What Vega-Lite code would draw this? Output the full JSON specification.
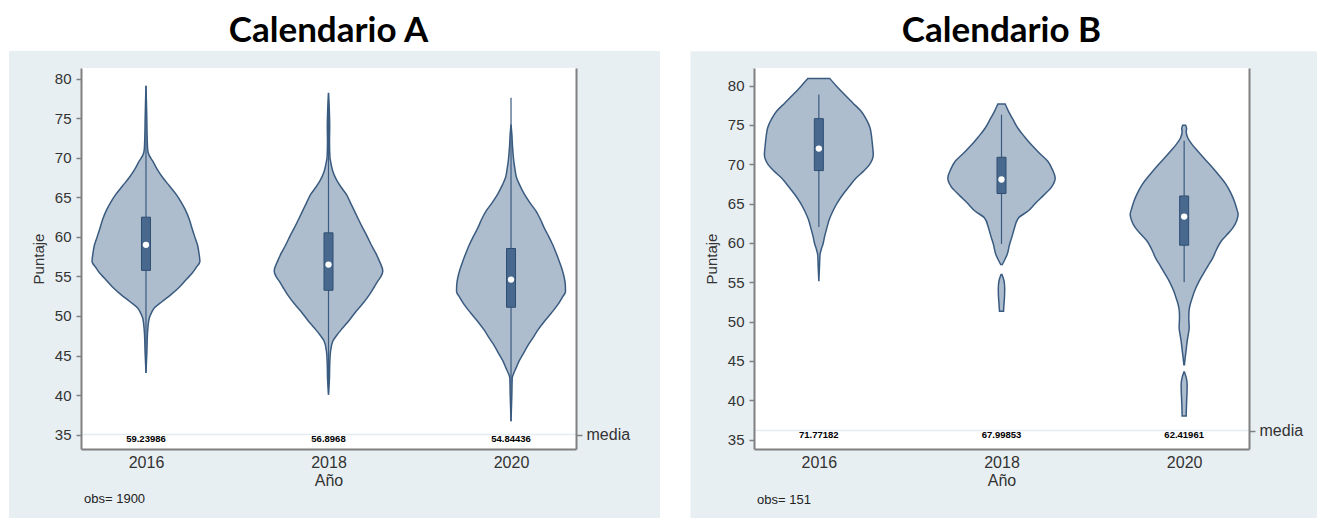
{
 "$schema": "https://vega.github.io/schema/vega-lite/v6.json",
 "padding": {"left": 8, "top": 13, "right": 0, "bottom": 0},
 "background": "white",
 "spacing": 29,
 "datasets": {
  "violin": [
   {"cal":"A","anio":2016,"parte":1,"puntaje":79.1,"lo":2016,"hi":2016},
   {"cal":"A","anio":2016,"parte":1,"puntaje":77,"lo":2015.995,"hi":2016.005},
   {"cal":"A","anio":2016,"parte":1,"puntaje":75,"lo":2015.991,"hi":2016.009},
   {"cal":"A","anio":2016,"parte":1,"puntaje":73,"lo":2015.988,"hi":2016.012},
   {"cal":"A","anio":2016,"parte":1,"puntaje":71.1,"lo":2015.982,"hi":2016.018},
   {"cal":"A","anio":2016,"parte":1,"puntaje":70.3,"lo":2015.965,"hi":2016.035},
   {"cal":"A","anio":2016,"parte":1,"puntaje":69.6,"lo":2015.927,"hi":2016.073},
   {"cal":"A","anio":2016,"parte":1,"puntaje":68.5,"lo":2015.875,"hi":2016.125},
   {"cal":"A","anio":2016,"parte":1,"puntaje":67.5,"lo":2015.817,"hi":2016.183},
   {"cal":"A","anio":2016,"parte":1,"puntaje":66.4,"lo":2015.74,"hi":2016.26},
   {"cal":"A","anio":2016,"parte":1,"puntaje":65.4,"lo":2015.671,"hi":2016.329},
   {"cal":"A","anio":2016,"parte":1,"puntaje":64.3,"lo":2015.61,"hi":2016.39},
   {"cal":"A","anio":2016,"parte":1,"puntaje":63.25,"lo":2015.562,"hi":2016.438},
   {"cal":"A","anio":2016,"parte":1,"puntaje":62.2,"lo":2015.525,"hi":2016.475},
   {"cal":"A","anio":2016,"parte":1,"puntaje":61.1,"lo":2015.496,"hi":2016.504},
   {"cal":"A","anio":2016,"parte":1,"puntaje":60,"lo":2015.465,"hi":2016.535},
   {"cal":"A","anio":2016,"parte":1,"puntaje":59,"lo":2015.436,"hi":2016.564},
   {"cal":"A","anio":2016,"parte":1,"puntaje":58,"lo":2015.42,"hi":2016.58},
   {"cal":"A","anio":2016,"parte":1,"puntaje":56.9,"lo":2015.409,"hi":2016.591},
   {"cal":"A","anio":2016,"parte":1,"puntaje":56.1,"lo":2015.452,"hi":2016.548},
   {"cal":"A","anio":2016,"parte":1,"puntaje":55.4,"lo":2015.495,"hi":2016.505},
   {"cal":"A","anio":2016,"parte":1,"puntaje":54.8,"lo":2015.543,"hi":2016.457},
   {"cal":"A","anio":2016,"parte":1,"puntaje":53.7,"lo":2015.63,"hi":2016.37},
   {"cal":"A","anio":2016,"parte":1,"puntaje":52.7,"lo":2015.726,"hi":2016.274},
   {"cal":"A","anio":2016,"parte":1,"puntaje":51.8,"lo":2015.825,"hi":2016.175},
   {"cal":"A","anio":2016,"parte":1,"puntaje":51,"lo":2015.909,"hi":2016.091},
   {"cal":"A","anio":2016,"parte":1,"puntaje":50.4,"lo":2015.94,"hi":2016.06},
   {"cal":"A","anio":2016,"parte":1,"puntaje":49.75,"lo":2015.964,"hi":2016.036},
   {"cal":"A","anio":2016,"parte":1,"puntaje":48.6,"lo":2015.978,"hi":2016.022},
   {"cal":"A","anio":2016,"parte":1,"puntaje":47.65,"lo":2015.984,"hi":2016.016},
   {"cal":"A","anio":2016,"parte":1,"puntaje":45.5,"lo":2015.99,"hi":2016.01},
   {"cal":"A","anio":2016,"parte":1,"puntaje":42.8,"lo":2016,"hi":2016},

   {"cal":"A","anio":2018,"parte":1,"puntaje":78.2,"lo":2018,"hi":2018},
   {"cal":"A","anio":2018,"parte":1,"puntaje":76,"lo":2017.991,"hi":2018.009},
   {"cal":"A","anio":2018,"parte":1,"puntaje":74,"lo":2017.987,"hi":2018.013},
   {"cal":"A","anio":2018,"parte":1,"puntaje":72,"lo":2017.989,"hi":2018.011},
   {"cal":"A","anio":2018,"parte":1,"puntaje":70,"lo":2017.984,"hi":2018.016},
   {"cal":"A","anio":2018,"parte":1,"puntaje":69.6,"lo":2017.978,"hi":2018.022},
   {"cal":"A","anio":2018,"parte":1,"puntaje":68.3,"lo":2017.953,"hi":2018.047},
   {"cal":"A","anio":2018,"parte":1,"puntaje":67.2,"lo":2017.912,"hi":2018.088},
   {"cal":"A","anio":2018,"parte":1,"puntaje":66.3,"lo":2017.863,"hi":2018.137},
   {"cal":"A","anio":2018,"parte":1,"puntaje":65.4,"lo":2017.806,"hi":2018.194},
   {"cal":"A","anio":2018,"parte":1,"puntaje":64.3,"lo":2017.759,"hi":2018.241},
   {"cal":"A","anio":2018,"parte":1,"puntaje":63.25,"lo":2017.715,"hi":2018.285},
   {"cal":"A","anio":2018,"parte":1,"puntaje":62.2,"lo":2017.671,"hi":2018.329},
   {"cal":"A","anio":2018,"parte":1,"puntaje":61.1,"lo":2017.624,"hi":2018.376},
   {"cal":"A","anio":2018,"parte":1,"puntaje":60.1,"lo":2017.578,"hi":2018.422},
   {"cal":"A","anio":2018,"parte":1,"puntaje":59,"lo":2017.532,"hi":2018.468},
   {"cal":"A","anio":2018,"parte":1,"puntaje":58,"lo":2017.485,"hi":2018.515},
   {"cal":"A","anio":2018,"parte":1,"puntaje":56.9,"lo":2017.441,"hi":2018.559},
   {"cal":"A","anio":2018,"parte":1,"puntaje":55.7,"lo":2017.405,"hi":2018.595},
   {"cal":"A","anio":2018,"parte":1,"puntaje":55,"lo":2017.425,"hi":2018.575},
   {"cal":"A","anio":2018,"parte":1,"puntaje":54.4,"lo":2017.46,"hi":2018.54},
   {"cal":"A","anio":2018,"parte":1,"puntaje":53.6,"lo":2017.502,"hi":2018.498},
   {"cal":"A","anio":2018,"parte":1,"puntaje":52.7,"lo":2017.551,"hi":2018.449},
   {"cal":"A","anio":2018,"parte":1,"puntaje":51.6,"lo":2017.622,"hi":2018.378},
   {"cal":"A","anio":2018,"parte":1,"puntaje":50.6,"lo":2017.697,"hi":2018.303},
   {"cal":"A","anio":2018,"parte":1,"puntaje":49.5,"lo":2017.77,"hi":2018.23},
   {"cal":"A","anio":2018,"parte":1,"puntaje":48.5,"lo":2017.843,"hi":2018.157},
   {"cal":"A","anio":2018,"parte":1,"puntaje":47.6,"lo":2017.907,"hi":2018.093},
   {"cal":"A","anio":2018,"parte":1,"puntaje":46.8,"lo":2017.953,"hi":2018.047},
   {"cal":"A","anio":2018,"parte":1,"puntaje":45.5,"lo":2017.978,"hi":2018.022},
   {"cal":"A","anio":2018,"parte":1,"puntaje":44,"lo":2017.986,"hi":2018.014},
   {"cal":"A","anio":2018,"parte":1,"puntaje":42,"lo":2017.99,"hi":2018.01},
   {"cal":"A","anio":2018,"parte":1,"puntaje":40.05,"lo":2018,"hi":2018},

   {"cal":"A","anio":2020,"parte":1,"puntaje":74.2,"lo":2020,"hi":2020},
   {"cal":"A","anio":2020,"parte":1,"puntaje":73,"lo":2019.991,"hi":2020.009},
   {"cal":"A","anio":2020,"parte":1,"puntaje":71.5,"lo":2019.984,"hi":2020.016},
   {"cal":"A","anio":2020,"parte":1,"puntaje":69.6,"lo":2019.97,"hi":2020.03},
   {"cal":"A","anio":2020,"parte":1,"puntaje":68.5,"lo":2019.956,"hi":2020.044},
   {"cal":"A","anio":2020,"parte":1,"puntaje":67.5,"lo":2019.94,"hi":2020.06},
   {"cal":"A","anio":2020,"parte":1,"puntaje":66.6,"lo":2019.907,"hi":2020.093},
   {"cal":"A","anio":2020,"parte":1,"puntaje":65.4,"lo":2019.854,"hi":2020.146},
   {"cal":"A","anio":2020,"parte":1,"puntaje":64.3,"lo":2019.792,"hi":2020.208},
   {"cal":"A","anio":2020,"parte":1,"puntaje":63.25,"lo":2019.726,"hi":2020.274},
   {"cal":"A","anio":2020,"parte":1,"puntaje":62.2,"lo":2019.677,"hi":2020.323},
   {"cal":"A","anio":2020,"parte":1,"puntaje":61.1,"lo":2019.635,"hi":2020.365},
   {"cal":"A","anio":2020,"parte":1,"puntaje":60.1,"lo":2019.589,"hi":2020.411},
   {"cal":"A","anio":2020,"parte":1,"puntaje":59,"lo":2019.543,"hi":2020.457},
   {"cal":"A","anio":2020,"parte":1,"puntaje":58,"lo":2019.507,"hi":2020.493},
   {"cal":"A","anio":2020,"parte":1,"puntaje":56.9,"lo":2019.471,"hi":2020.529},
   {"cal":"A","anio":2020,"parte":1,"puntaje":55.9,"lo":2019.441,"hi":2020.559},
   {"cal":"A","anio":2020,"parte":1,"puntaje":54.8,"lo":2019.416,"hi":2020.584},
   {"cal":"A","anio":2020,"parte":1,"puntaje":53.9,"lo":2019.405,"hi":2020.595},
   {"cal":"A","anio":2020,"parte":1,"puntaje":53.1,"lo":2019.403,"hi":2020.597},
   {"cal":"A","anio":2020,"parte":1,"puntaje":52.3,"lo":2019.441,"hi":2020.559},
   {"cal":"A","anio":2020,"parte":1,"puntaje":51.4,"lo":2019.489,"hi":2020.511},
   {"cal":"A","anio":2020,"parte":1,"puntaje":50.4,"lo":2019.556,"hi":2020.444},
   {"cal":"A","anio":2020,"parte":1,"puntaje":49.3,"lo":2019.635,"hi":2020.365},
   {"cal":"A","anio":2020,"parte":1,"puntaje":48.3,"lo":2019.701,"hi":2020.299},
   {"cal":"A","anio":2020,"parte":1,"puntaje":47.2,"lo":2019.762,"hi":2020.238},
   {"cal":"A","anio":2020,"parte":1,"puntaje":46.2,"lo":2019.819,"hi":2020.181},
   {"cal":"A","anio":2020,"parte":1,"puntaje":45.1,"lo":2019.872,"hi":2020.128},
   {"cal":"A","anio":2020,"parte":1,"puntaje":44.3,"lo":2019.912,"hi":2020.088},
   {"cal":"A","anio":2020,"parte":1,"puntaje":43.4,"lo":2019.945,"hi":2020.055},
   {"cal":"A","anio":2020,"parte":1,"puntaje":42.8,"lo":2019.969,"hi":2020.031},
   {"cal":"A","anio":2020,"parte":1,"puntaje":42.15,"lo":2019.987,"hi":2020.013},
   {"cal":"A","anio":2020,"parte":1,"puntaje":40,"lo":2019.991,"hi":2020.009},
   {"cal":"A","anio":2020,"parte":1,"puntaje":36.7,"lo":2020,"hi":2020},

   {"cal":"B","anio":2016,"parte":1,"puntaje":80.9,"lo":2015.88,"hi":2016.12},
   {"cal":"B","anio":2016,"parte":1,"puntaje":79.9,"lo":2015.803,"hi":2016.197},
   {"cal":"B","anio":2016,"parte":1,"puntaje":78.86,"lo":2015.719,"hi":2016.281},
   {"cal":"B","anio":2016,"parte":1,"puntaje":77.8,"lo":2015.628,"hi":2016.372},
   {"cal":"B","anio":2016,"parte":1,"puntaje":76.73,"lo":2015.537,"hi":2016.463},
   {"cal":"B","anio":2016,"parte":1,"puntaje":75.7,"lo":2015.48,"hi":2016.52},
   {"cal":"B","anio":2016,"parte":1,"puntaje":74.61,"lo":2015.439,"hi":2016.561},
   {"cal":"B","anio":2016,"parte":1,"puntaje":73.8,"lo":2015.426,"hi":2016.574},
   {"cal":"B","anio":2016,"parte":1,"puntaje":72.92,"lo":2015.417,"hi":2016.583},
   {"cal":"B","anio":2016,"parte":1,"puntaje":72,"lo":2015.409,"hi":2016.591},
   {"cal":"B","anio":2016,"parte":1,"puntaje":71.23,"lo":2015.404,"hi":2016.596},
   {"cal":"B","anio":2016,"parte":1,"puntaje":70.6,"lo":2015.415,"hi":2016.585},
   {"cal":"B","anio":2016,"parte":1,"puntaje":69.96,"lo":2015.445,"hi":2016.555},
   {"cal":"B","anio":2016,"parte":1,"puntaje":69.1,"lo":2015.513,"hi":2016.487},
   {"cal":"B","anio":2016,"parte":1,"puntaje":68.26,"lo":2015.592,"hi":2016.408},
   {"cal":"B","anio":2016,"parte":1,"puntaje":67.2,"lo":2015.666,"hi":2016.334},
   {"cal":"B","anio":2016,"parte":1,"puntaje":66.15,"lo":2015.737,"hi":2016.263},
   {"cal":"B","anio":2016,"parte":1,"puntaje":65.1,"lo":2015.798,"hi":2016.202},
   {"cal":"B","anio":2016,"parte":1,"puntaje":64.03,"lo":2015.847,"hi":2016.153},
   {"cal":"B","anio":2016,"parte":1,"puntaje":63,"lo":2015.885,"hi":2016.115},
   {"cal":"B","anio":2016,"parte":1,"puntaje":61.91,"lo":2015.912,"hi":2016.088},
   {"cal":"B","anio":2016,"parte":1,"puntaje":60.8,"lo":2015.937,"hi":2016.063},
   {"cal":"B","anio":2016,"parte":1,"puntaje":59.8,"lo":2015.956,"hi":2016.044},
   {"cal":"B","anio":2016,"parte":1,"puntaje":59.2,"lo":2015.973,"hi":2016.027},
   {"cal":"B","anio":2016,"parte":1,"puntaje":58.53,"lo":2015.987,"hi":2016.013},
   {"cal":"B","anio":2016,"parte":1,"puntaje":57,"lo":2015.993,"hi":2016.007},
   {"cal":"B","anio":2016,"parte":1,"puntaje":55.13,"lo":2016,"hi":2016},

   {"cal":"B","anio":2018,"parte":1,"puntaje":77.66,"lo":2017.96,"hi":2018.04},
   {"cal":"B","anio":2018,"parte":1,"puntaje":76.73,"lo":2017.923,"hi":2018.077},
   {"cal":"B","anio":2018,"parte":1,"puntaje":75.7,"lo":2017.874,"hi":2018.126},
   {"cal":"B","anio":2018,"parte":1,"puntaje":74.61,"lo":2017.822,"hi":2018.178},
   {"cal":"B","anio":2018,"parte":1,"puntaje":73.5,"lo":2017.748,"hi":2018.252},
   {"cal":"B","anio":2018,"parte":1,"puntaje":72.5,"lo":2017.675,"hi":2018.325},
   {"cal":"B","anio":2018,"parte":1,"puntaje":71.4,"lo":2017.584,"hi":2018.416},
   {"cal":"B","anio":2018,"parte":1,"puntaje":70.38,"lo":2017.493,"hi":2018.507},
   {"cal":"B","anio":2018,"parte":1,"puntaje":69.3,"lo":2017.442,"hi":2018.558},
   {"cal":"B","anio":2018,"parte":1,"puntaje":68.26,"lo":2017.412,"hi":2018.588},
   {"cal":"B","anio":2018,"parte":1,"puntaje":67.2,"lo":2017.447,"hi":2018.553},
   {"cal":"B","anio":2018,"parte":1,"puntaje":66.15,"lo":2017.53,"hi":2018.47},
   {"cal":"B","anio":2018,"parte":1,"puntaje":65.1,"lo":2017.623,"hi":2018.377},
   {"cal":"B","anio":2018,"parte":1,"puntaje":64.03,"lo":2017.712,"hi":2018.288},
   {"cal":"B","anio":2018,"parte":1,"puntaje":63.18,"lo":2017.814,"hi":2018.186},
   {"cal":"B","anio":2018,"parte":1,"puntaje":61.91,"lo":2017.858,"hi":2018.142},
   {"cal":"B","anio":2018,"parte":1,"puntaje":60.8,"lo":2017.885,"hi":2018.115},
   {"cal":"B","anio":2018,"parte":1,"puntaje":59.8,"lo":2017.912,"hi":2018.088},
   {"cal":"B","anio":2018,"parte":1,"puntaje":58.53,"lo":2017.938,"hi":2018.062},
   {"cal":"B","anio":2018,"parte":1,"puntaje":57.8,"lo":2017.967,"hi":2018.033},
   {"cal":"B","anio":2018,"parte":1,"puntaje":57.26,"lo":2017.991,"hi":2018.009},
   {"cal":"B","anio":2018,"parte":2,"puntaje":55.98,"lo":2017.995,"hi":2018.005},
   {"cal":"B","anio":2018,"parte":2,"puntaje":55.2,"lo":2017.973,"hi":2018.027},
   {"cal":"B","anio":2018,"parte":2,"puntaje":54.2,"lo":2017.965,"hi":2018.035},
   {"cal":"B","anio":2018,"parte":2,"puntaje":53.2,"lo":2017.967,"hi":2018.033},
   {"cal":"B","anio":2018,"parte":2,"puntaje":52.2,"lo":2017.973,"hi":2018.027},
   {"cal":"B","anio":2018,"parte":2,"puntaje":51.32,"lo":2017.978,"hi":2018.022},

   {"cal":"B","anio":2020,"parte":1,"puntaje":74.96,"lo":2019.984,"hi":2020.016},
   {"cal":"B","anio":2020,"parte":1,"puntaje":74.5,"lo":2019.973,"hi":2020.027},
   {"cal":"B","anio":2020,"parte":1,"puntaje":74.2,"lo":2019.978,"hi":2020.022},
   {"cal":"B","anio":2020,"parte":1,"puntaje":73.34,"lo":2019.96,"hi":2020.04},
   {"cal":"B","anio":2020,"parte":1,"puntaje":72.5,"lo":2019.912,"hi":2020.088},
   {"cal":"B","anio":2020,"parte":1,"puntaje":71.65,"lo":2019.85,"hi":2020.15},
   {"cal":"B","anio":2020,"parte":1,"puntaje":70.6,"lo":2019.77,"hi":2020.23},
   {"cal":"B","anio":2020,"parte":1,"puntaje":69.53,"lo":2019.686,"hi":2020.314},
   {"cal":"B","anio":2020,"parte":1,"puntaje":68.5,"lo":2019.612,"hi":2020.388},
   {"cal":"B","anio":2020,"parte":1,"puntaje":67.42,"lo":2019.54,"hi":2020.46},
   {"cal":"B","anio":2020,"parte":1,"puntaje":66.4,"lo":2019.491,"hi":2020.509},
   {"cal":"B","anio":2020,"parte":1,"puntaje":65.3,"lo":2019.45,"hi":2020.55},
   {"cal":"B","anio":2020,"parte":1,"puntaje":64.4,"lo":2019.426,"hi":2020.574},
   {"cal":"B","anio":2020,"parte":1,"puntaje":63.61,"lo":2019.409,"hi":2020.591},
   {"cal":"B","anio":2020,"parte":1,"puntaje":62.8,"lo":2019.426,"hi":2020.574},
   {"cal":"B","anio":2020,"parte":1,"puntaje":61.91,"lo":2019.467,"hi":2020.533},
   {"cal":"B","anio":2020,"parte":1,"puntaje":61,"lo":2019.535,"hi":2020.465},
   {"cal":"B","anio":2020,"parte":1,"puntaje":60.22,"lo":2019.595,"hi":2020.405},
   {"cal":"B","anio":2020,"parte":1,"puntaje":59.2,"lo":2019.644,"hi":2020.356},
   {"cal":"B","anio":2020,"parte":1,"puntaje":58.1,"lo":2019.686,"hi":2020.314},
   {"cal":"B","anio":2020,"parte":1,"puntaje":57,"lo":2019.743,"hi":2020.257},
   {"cal":"B","anio":2020,"parte":1,"puntaje":55.98,"lo":2019.795,"hi":2020.205},
   {"cal":"B","anio":2020,"parte":1,"puntaje":54.9,"lo":2019.847,"hi":2020.153},
   {"cal":"B","anio":2020,"parte":1,"puntaje":53.86,"lo":2019.887,"hi":2020.113},
   {"cal":"B","anio":2020,"parte":1,"puntaje":53,"lo":2019.912,"hi":2020.088},
   {"cal":"B","anio":2020,"parte":1,"puntaje":52.17,"lo":2019.934,"hi":2020.066},
   {"cal":"B","anio":2020,"parte":1,"puntaje":51.3,"lo":2019.947,"hi":2020.053},
   {"cal":"B","anio":2020,"parte":1,"puntaje":50.47,"lo":2019.949,"hi":2020.051},
   {"cal":"B","anio":2020,"parte":1,"puntaje":49.2,"lo":2019.945,"hi":2020.055},
   {"cal":"B","anio":2020,"parte":1,"puntaje":48.3,"lo":2019.956,"hi":2020.044},
   {"cal":"B","anio":2020,"parte":1,"puntaje":47.51,"lo":2019.967,"hi":2020.033},
   {"cal":"B","anio":2020,"parte":1,"puntaje":46.4,"lo":2019.978,"hi":2020.022},
   {"cal":"B","anio":2020,"parte":1,"puntaje":45.39,"lo":2019.989,"hi":2020.011},
   {"cal":"B","anio":2020,"parte":1,"puntaje":44.5,"lo":2019.997,"hi":2020.003},
   {"cal":"B","anio":2020,"parte":2,"puntaje":43.6,"lo":2019.997,"hi":2020.003},
   {"cal":"B","anio":2020,"parte":2,"puntaje":42.9,"lo":2019.978,"hi":2020.022},
   {"cal":"B","anio":2020,"parte":2,"puntaje":42,"lo":2019.967,"hi":2020.033},
   {"cal":"B","anio":2020,"parte":2,"puntaje":40.9,"lo":2019.969,"hi":2020.031},
   {"cal":"B","anio":2020,"parte":2,"puntaje":39.89,"lo":2019.973,"hi":2020.027},
   {"cal":"B","anio":2020,"parte":2,"puntaje":38.9,"lo":2019.976,"hi":2020.024},
   {"cal":"B","anio":2020,"parte":2,"puntaje":37.98,"lo":2019.978,"hi":2020.022}
  ],
  "caja": [
   {"cal":"A","anio":2016,"q1":55.76,"q3":62.49,"mediana":58.99,"wlo":42.8,"whi":79.1,"media":"59.23986"},
   {"cal":"A","anio":2018,"q1":53.25,"q3":60.51,"mediana":56.5,"wlo":40.05,"whi":78.2,"media":"56.8968"},
   {"cal":"A","anio":2020,"q1":51.1,"q3":58.53,"mediana":54.6,"wlo":36.7,"whi":77.6,"media":"54.84436"},
   {"cal":"B","anio":2016,"q1":69.2,"q3":75.8,"mediana":72.0,"wlo":62.03,"whi":78.86,"media":"71.77182"},
   {"cal":"B","anio":2018,"q1":66.28,"q3":70.89,"mediana":68.06,"wlo":59.87,"whi":76.3,"media":"67.99853"},
   {"cal":"B","anio":2020,"q1":59.71,"q3":65.97,"mediana":63.35,"wlo":55.0,"whi":73.0,"media":"62.41961"}
  ],
  "obs": [
   {"cal":"A","texto":"obs= 1900"},
   {"cal":"B","texto":"obs= 151"}
  ]
 },
 "hconcat": [
  {
   "title": {"text": "Calendario A"},
   "width": 495, "height": 381,
   "layer": [
    {"layer": [
     {"data": {"values": [{}]}, "mark": {"type": "rect", "fill": "#e8eff2"},
      "encoding": {
       "x": {"datum": 2014.499, "type": "quantitative", "title": "Año", "scale": {"domain": [2015.288, 2020.712], "nice": false, "zero": false, "padding": 0},
             "axis": {"zindex": 1, "values": [2016, 2018, 2020], "format": "d", "ticks": false, "labelFontSize": 16, "labelPadding": 5, "titleFontSize": 16, "titlePadding": 2}},
       "x2": {"datum": 2021.633},
       "y": {"datum": 24.0, "type": "quantitative", "title": "Puntaje", "scale": {"domain": [33.18, 81.35], "nice": false, "zero": false},
             "axis": {"zindex": 1, "orient": "left", "values": [35, 40, 45, 50, 55, 60, 65, 70, 75, 80], "tickSize": 5, "labelFontSize": 15, "labelPadding": 5, "titleFontSize": 15, "titlePadding": 8}},
       "y2": {"datum": 83.5}
      }},
     {"data": {"values": [{}]}, "mark": {"type": "rect", "fill": "white"},
      "encoding": {
       "x": {"datum": 2015.288, "type": "quantitative", "title": "Año"},
       "x2": {"datum": 2020.712},
       "y": {"datum": 33.18, "type": "quantitative", "title": "Puntaje"},
       "y2": {"datum": 81.35}
      }},
     {"data": {"name": "violin"}, "transform": [{"filter": "datum.cal === 'A'"}],
      "mark": {"type": "area", "orient": "horizontal", "interpolate": "monotone", "fill": "#aebdcd", "fillOpacity": 1, "stroke": "#3a5b80", "strokeWidth": 1.5},
      "encoding": {
       "y": {"field": "puntaje", "type": "quantitative", "title": "Puntaje"},
       "x": {"field": "lo", "type": "quantitative", "title": "Año"},
       "x2": {"field": "hi"},
       "detail": [{"field": "anio"}, {"field": "parte"}]
      }},
     {"data": {"name": "caja"}, "transform": [{"filter": "datum.cal === 'A'"}],
      "mark": {"type": "rule", "color": "#3a5b80", "strokeWidth": 1.2},
      "encoding": {
       "x": {"field": "anio", "type": "quantitative", "title": "Año"},
       "y": {"field": "wlo", "type": "quantitative", "title": "Puntaje"},
       "y2": {"field": "whi"}
      }},
     {"data": {"name": "caja"}, "transform": [{"filter": "datum.cal === 'A'"}],
      "mark": {"type": "bar", "size": 9, "fill": "#48698d", "stroke": "#2e4e72", "strokeWidth": 1},
      "encoding": {
       "x": {"field": "anio", "type": "quantitative", "title": "Año"},
       "y": {"field": "q1", "type": "quantitative", "title": "Puntaje"},
       "y2": {"field": "q3"}
      }},
     {"data": {"name": "caja"}, "transform": [{"filter": "datum.cal === 'A'"}],
      "mark": {"type": "point", "filled": true, "color": "white", "opacity": 1, "size": 40},
      "encoding": {
       "x": {"field": "anio", "type": "quantitative", "title": "Año"},
       "y": {"field": "mediana", "type": "quantitative", "title": "Puntaje"}
      }},
     {"data": {"name": "caja"}, "transform": [{"filter": "datum.cal === 'A'"}],
      "mark": {"type": "text", "fontSize": 9.5, "fontWeight": "bold", "dy": 4.5, "color": "black", "font": "Liberation Sans"},
      "encoding": {
       "x": {"field": "anio", "type": "quantitative", "title": "Año"},
       "y": {"datum": 35, "type": "quantitative", "title": "Puntaje"},
       "text": {"field": "media", "type": "nominal"}
      }},
     {"data": {"name": "obs"}, "transform": [{"filter": "datum.cal === 'A'"}],
      "mark": {"type": "text", "align": "left", "fontSize": 13, "color": "#222222", "font": "Liberation Sans"},
      "encoding": {
       "x": {"datum": 2015.321, "type": "quantitative", "title": "Año"},
       "y": {"datum": 26.82, "type": "quantitative", "title": "Puntaje"},
       "text": {"field": "texto", "type": "nominal"}
      }}
    ]},
    {"data": {"values": [{}]}, "mark": {"type": "rule", "color": "#e3ecf0", "strokeWidth": 1.5},
     "encoding": {
      "y": {"datum": 35, "type": "quantitative", "scale": {"domain": [33.18, 81.35], "nice": false, "zero": false},
            "axis": {"zindex": 1, "orient": "right", "values": [35], "labelExpr": "'media'", "tickSize": 6, "labelFontSize": 16, "labelPadding": 4, "title": null}}
     }}
   ],
   "resolve": {"scale": {"y": "independent"}, "axis": {"y": "independent"}}
  },
  {
   "title": {"text": "Calendario B"},
   "width": 495, "height": 381,
   "layer": [
    {"layer": [
     {"data": {"values": [{}]}, "mark": {"type": "rect", "fill": "#e8eff2"},
      "encoding": {
       "x": {"datum": 2014.594, "type": "quantitative", "title": "Año", "scale": {"domain": [2015.29, 2020.71], "nice": false, "zero": false, "padding": 0},
             "axis": {"zindex": 1, "values": [2016, 2018, 2020], "format": "d", "ticks": false, "labelFontSize": 16, "labelPadding": 5, "titleFontSize": 16, "titlePadding": 2}},
       "x2": {"datum": 2021.476},
       "y": {"datum": 24.6, "type": "quantitative", "title": "Puntaje", "scale": {"domain": [33.8, 82.24], "nice": false, "zero": false},
             "axis": {"zindex": 1, "orient": "left", "values": [35, 40, 45, 50, 55, 60, 65, 70, 75, 80], "tickSize": 5, "labelFontSize": 15, "labelPadding": 5, "titleFontSize": 15, "titlePadding": 8}},
       "y2": {"datum": 84.36}
      }},
     {"data": {"values": [{}]}, "mark": {"type": "rect", "fill": "white"},
      "encoding": {
       "x": {"datum": 2015.29, "type": "quantitative", "title": "Año"},
       "x2": {"datum": 2020.71},
       "y": {"datum": 33.8, "type": "quantitative", "title": "Puntaje"},
       "y2": {"datum": 82.24}
      }},
     {"data": {"name": "violin"}, "transform": [{"filter": "datum.cal === 'B'"}],
      "mark": {"type": "area", "orient": "horizontal", "interpolate": "monotone", "fill": "#aebdcd", "fillOpacity": 1, "stroke": "#3a5b80", "strokeWidth": 1.5},
      "encoding": {
       "y": {"field": "puntaje", "type": "quantitative", "title": "Puntaje"},
       "x": {"field": "lo", "type": "quantitative", "title": "Año"},
       "x2": {"field": "hi"},
       "detail": [{"field": "anio"}, {"field": "parte"}]
      }},
     {"data": {"name": "caja"}, "transform": [{"filter": "datum.cal === 'B'"}],
      "mark": {"type": "rule", "color": "#3a5b80", "strokeWidth": 1.2},
      "encoding": {
       "x": {"field": "anio", "type": "quantitative", "title": "Año"},
       "y": {"field": "wlo", "type": "quantitative", "title": "Puntaje"},
       "y2": {"field": "whi"}
      }},
     {"data": {"name": "caja"}, "transform": [{"filter": "datum.cal === 'B'"}],
      "mark": {"type": "bar", "size": 9, "fill": "#48698d", "stroke": "#2e4e72", "strokeWidth": 1},
      "encoding": {
       "x": {"field": "anio", "type": "quantitative", "title": "Año"},
       "y": {"field": "q1", "type": "quantitative", "title": "Puntaje"},
       "y2": {"field": "q3"}
      }},
     {"data": {"name": "caja"}, "transform": [{"filter": "datum.cal === 'B'"}],
      "mark": {"type": "point", "filled": true, "color": "white", "opacity": 1, "size": 40},
      "encoding": {
       "x": {"field": "anio", "type": "quantitative", "title": "Año"},
       "y": {"field": "mediana", "type": "quantitative", "title": "Puntaje"}
      }},
     {"data": {"name": "caja"}, "transform": [{"filter": "datum.cal === 'B'"}],
      "mark": {"type": "text", "fontSize": 9.5, "fontWeight": "bold", "dy": 4.5, "color": "black", "font": "Liberation Sans"},
      "encoding": {
       "x": {"field": "anio", "type": "quantitative", "title": "Año"},
       "y": {"datum": 36.14, "type": "quantitative", "title": "Puntaje"},
       "text": {"field": "media", "type": "nominal"}
      }},
     {"data": {"name": "obs"}, "transform": [{"filter": "datum.cal === 'B'"}],
      "mark": {"type": "text", "align": "left", "fontSize": 13, "color": "#222222", "font": "Liberation Sans"},
      "encoding": {
       "x": {"datum": 2015.323, "type": "quantitative", "title": "Año"},
       "y": {"datum": 27.37, "type": "quantitative", "title": "Puntaje"},
       "text": {"field": "texto", "type": "nominal"}
      }}
    ]},
    {"data": {"values": [{}]}, "mark": {"type": "rule", "color": "#e3ecf0", "strokeWidth": 1.5},
     "encoding": {
      "y": {"datum": 36.14, "type": "quantitative", "scale": {"domain": [33.8, 82.24], "nice": false, "zero": false},
            "axis": {"zindex": 1, "orient": "right", "values": [36.14], "labelExpr": "'media'", "tickSize": 6, "labelFontSize": 16, "labelPadding": 4, "title": null}}
     }}
   ],
   "resolve": {"scale": {"y": "independent"}, "axis": {"y": "independent"}}
  }
 ],
 "config": {
  "font": "Liberation Sans",
  "view": {"stroke": null},
  "axis": {"zindex": 1, "grid": false, "domainColor": "#808080", "domainWidth": 2, "tickColor": "#808080", "tickWidth": 1.5, "labelColor": "#333333", "titleColor": "#333333", "titleFontWeight": "normal", "labelFont": "Liberation Sans", "titleFont": "Liberation Sans"},
  "title": {"font": "Lato", "fontSize": 35, "fontWeight": "bold", "color": "#000000", "anchor": "middle", "frame": "group", "offset": 2}
 }
}
